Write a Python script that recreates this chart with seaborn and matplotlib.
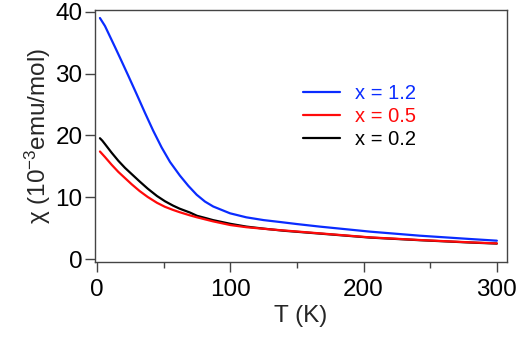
import matplotlib
matplotlib.use("Agg")
import matplotlib.pyplot as plt
import seaborn as sns
import pandas as pd
from matplotlib.ticker import MultipleLocator

# Data
T_12 = [2.2, 6, 13.5, 17.3, 23.5, 29.8, 36, 42.2, 48.5, 54.8, 62.2, 68.5, 74.8, 81, 87.2,
        99.8, 112, 125, 137, 150, 167, 205, 242, 280, 300]
chi_12 = [39.0, 37.7, 34.3, 32.55, 29.65, 26.65, 23.65, 20.75, 18.05, 15.7, 13.5, 11.85, 10.4, 9.3, 8.5,
          7.4, 6.75, 6.3, 6.0, 5.66, 5.25, 4.43, 3.78, 3.24, 2.97]

T_02 = [2.2, 4, 6, 11, 16, 21, 26, 32, 38, 45, 51, 57, 62, 70, 75, 82, 87, 100, 112, 125, 140,
        167, 205, 242, 280, 300]
chi_02 = [19.55, 19.15, 18.6, 17.2, 15.9, 14.75, 13.75, 12.55, 11.4, 10.2, 9.35, 8.65, 8.15, 7.5, 7.0,
          6.6, 6.3, 5.7, 5.25, 4.92, 4.58, 4.12, 3.47, 3.05, 2.67, 2.5]

T_05 = [2.2, 6, 11, 16, 21, 26, 32, 38, 45, 51, 57, 62, 70, 75, 87, 100, 112, 130, 167, 205,
        242, 280, 300]
chi_05 = [17.4, 16.5, 15.25, 14.1, 13.1, 12.1, 11.0, 10.05, 9.1, 8.45, 7.95, 7.58, 7.05, 6.75, 6.1,
          5.5, 5.15, 4.8, 4.16, 3.5, 3.08, 2.7, 2.53]

labels = ["x = 1.2", "x = 0.5", "x = 0.2"]
colors = {"x = 1.2": "#0a2cff", "x = 0.5": "#ff0a0a", "x = 0.2": "#000000"}

sns.set_theme(style="white")
plt.rcParams["font.family"] = ["Liberation Sans", "DejaVu Sans"]
plt.rcParams["mathtext.default"] = "regular"

fig = plt.figure(figsize=(5.22, 3.44), dpi=100)
ax = fig.add_axes([0.182, 0.238, 0.789, 0.733])

series = [("x = 1.2", T_12, chi_12), ("x = 0.2", T_02, chi_02), ("x = 0.5", T_05, chi_05)]
for lab, t, c in series:
    df = pd.DataFrame({"T": t, "chi": c})
    sns.lineplot(data=df, x="T", y="chi", ax=ax, color=colors[lab], lw=1.6, label=lab)

ax.set_xlim(-1.5, 307.5)
ax.set_ylim(-0.5, 40.3)
ax.xaxis.set_major_locator(MultipleLocator(100))
ax.xaxis.set_minor_locator(MultipleLocator(50))
ax.yaxis.set_major_locator(MultipleLocator(10))
ax.tick_params(axis="both", which="major", direction="out", length=7, width=1,
               color="#444444", labelsize=17.5, labelcolor="black")
ax.tick_params(axis="x", which="minor", direction="out", length=4, width=1, color="#444444")
ax.tick_params(axis="x", which="both", bottom=True, pad=5)
ax.tick_params(axis="y", which="major", left=True, pad=2)
for s in ax.spines.values():
    s.set_color("#444444")
    s.set_linewidth(1.0)

ax.set_xlabel("T (K)", fontsize=17.5, labelpad=3)
ax.set_ylabel(r"χ (10$^{-3}$emu/mol)", fontsize=17.5, labelpad=2)

handles, labs = ax.get_legend_handles_labels()
order = [labs.index(l) for l in labels]
leg = ax.legend([handles[i] for i in order], [labs[i] for i in order],
                loc="upper left", bbox_to_anchor=(0.485, 0.74), frameon=False,
                fontsize=14.5, handlelength=1.85, handletextpad=0.75, labelspacing=0.2,
                borderaxespad=0)
for txt, line in zip(leg.get_texts(), leg.get_lines()):
    txt.set_color(line.get_color())

fig.savefig("out.png", dpi=100)
